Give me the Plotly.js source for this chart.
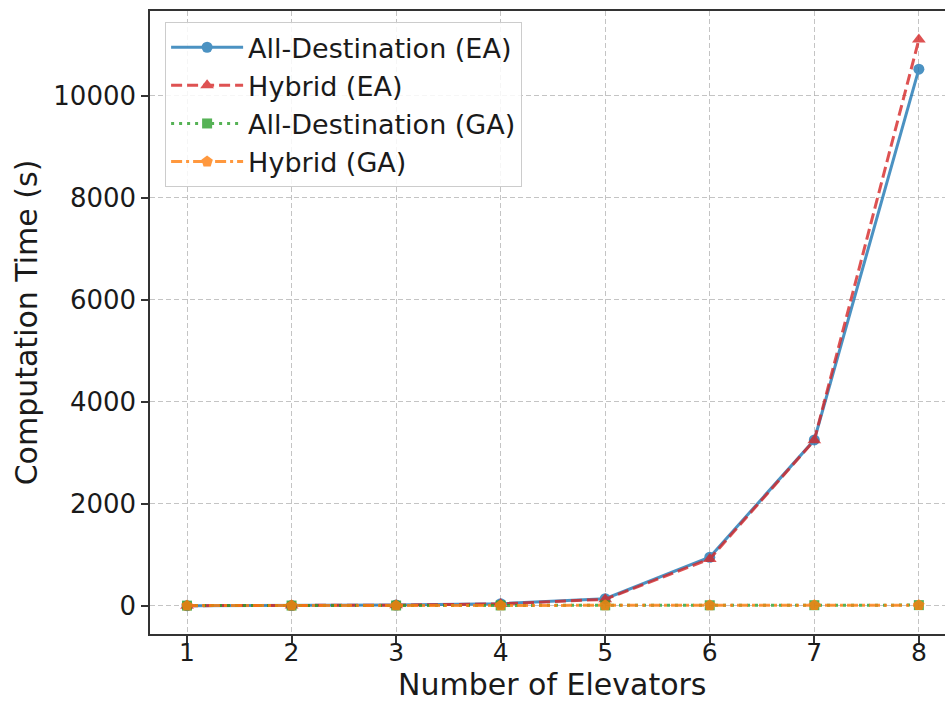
<!DOCTYPE html>
<html>
<head>
<meta charset="utf-8">
<script src="https://cdn.plot.ly/plotly-3.0.1.min.js"></script>
<style>html,body{margin:0;padding:0;background:#fff;}#chart{width:945px;height:702px;}</style>
</head>
<body>
<div id="chart"></div>
<script>
// Data
const elevators = [1, 2, 3, 4, 5, 6, 7, 8];
const allDestEA = [0.5, 3, 12, 40, 137, 950, 3250, 10520];
const hybridEA = [0.4, 2.5, 10, 35, 125, 915, 3245, 11100];
const allDestGA = [1.5, 2.8, 4.1, 5.3, 6.9, 8.2, 9.6, 11.4];
const hybridGA = [1.3, 2.6, 3.9, 5.0, 6.4, 7.7, 9.1, 10.8];
const seriesNames = ['All-Destination (EA)', 'Hybrid (EA)', 'All-Destination (GA)', 'Hybrid (GA)'];
const xTicks = [1, 2, 3, 4, 5, 6, 7, 8];
const yTicks = [0, 2000, 4000, 6000, 8000, 10000];
const xTitle = 'Number of Elevators';
const yTitle = 'Computation Time (s)';

const font = 'DejaVu Sans, sans-serif';
const gridColor = 'rgba(176,176,176,0.75)';

const traces = [
  {x: elevators, y: allDestEA, name: seriesNames[0], mode: 'lines+markers', opacity: 0.8,
   line: {color: '#1f77b4', width: 3, dash: 'solid'}, marker: {symbol: 'circle', size: 11, color: '#1f77b4'}},
  {x: elevators, y: hybridEA, name: seriesNames[1], mode: 'lines+markers', opacity: 0.8,
   line: {color: '#d62728', width: 3, dash: '11px,5px'}, marker: {symbol: 'triangle-up', size: 12, color: '#d62728'}},
  {x: elevators, y: allDestGA, name: seriesNames[2], mode: 'lines+markers', opacity: 0.8,
   line: {color: '#2ca02c', width: 3, dash: '3px,5px'}, marker: {symbol: 'square', size: 10, color: '#2ca02c'}},
  {x: elevators, y: hybridGA, name: seriesNames[3], mode: 'lines+markers', opacity: 0.8,
   line: {color: '#ff7f0e', width: 3, dash: '11px,4px,3px,4px'}, marker: {symbol: 'pentagon', size: 12, color: '#ff7f0e'}}
];

const layout = {
  width: 945, height: 702,
  margin: {l: 150, r: 0, t: 11, b: 68},
  paper_bgcolor: '#ffffff', plot_bgcolor: '#ffffff',
  font: {family: font, size: 26, color: '#1a1a1a'},
  showlegend: true,
  legend: {
    x: 0.019, y: 0.982, xanchor: 'left', yanchor: 'top',
    bgcolor: 'rgba(255,255,255,0.85)', bordercolor: '#cccccc', borderwidth: 1,
    font: {family: font, size: 27, color: '#1a1a1a'},
    itemwidth: 72, tracegroupgap: 0
  },
  xaxis: {
    range: [0.646, 8.25],
    tickvals: xTicks, ticktext: xTicks.map(String),
    ticks: 'outside', ticklen: 7, tickwidth: 1.5, tickcolor: '#333',
    ticklabelstandoff: -12,
    showline: true, linecolor: '#333', linewidth: 1.5, mirror: true,
    showgrid: true, gridcolor: gridColor, griddash: '5px,3px', gridwidth: 1,
    zeroline: false,
    tickfont: {family: font, size: 25, color: '#1a1a1a'}
  },
  yaxis: {
    range: [-555, 11660],
    tickvals: yTicks, ticktext: yTicks.map(String),
    ticks: 'outside', ticklen: 7, tickwidth: 1.5, tickcolor: '#333',
    showline: true, linecolor: '#333', linewidth: 1.5, mirror: false,
    showgrid: true, gridcolor: gridColor, griddash: '5px,3px', gridwidth: 1,
    zeroline: false,
    tickfont: {family: font, size: 26, color: '#1a1a1a'},
    title: {text: yTitle, font: {family: font, size: 30, color: '#1a1a1a'}, standoff: 7}
  },
  annotations: [{
    text: xTitle, xref: 'paper', yref: 'paper', x: 0.5057, y: -0.081,
    xanchor: 'center', yanchor: 'middle', showarrow: false,
    font: {family: font, size: 30, color: '#1a1a1a'}
  }]
};

Plotly.newPlot('chart', traces, layout, {displayModeBar: false, responsive: false});
</script>
</body>
</html>
